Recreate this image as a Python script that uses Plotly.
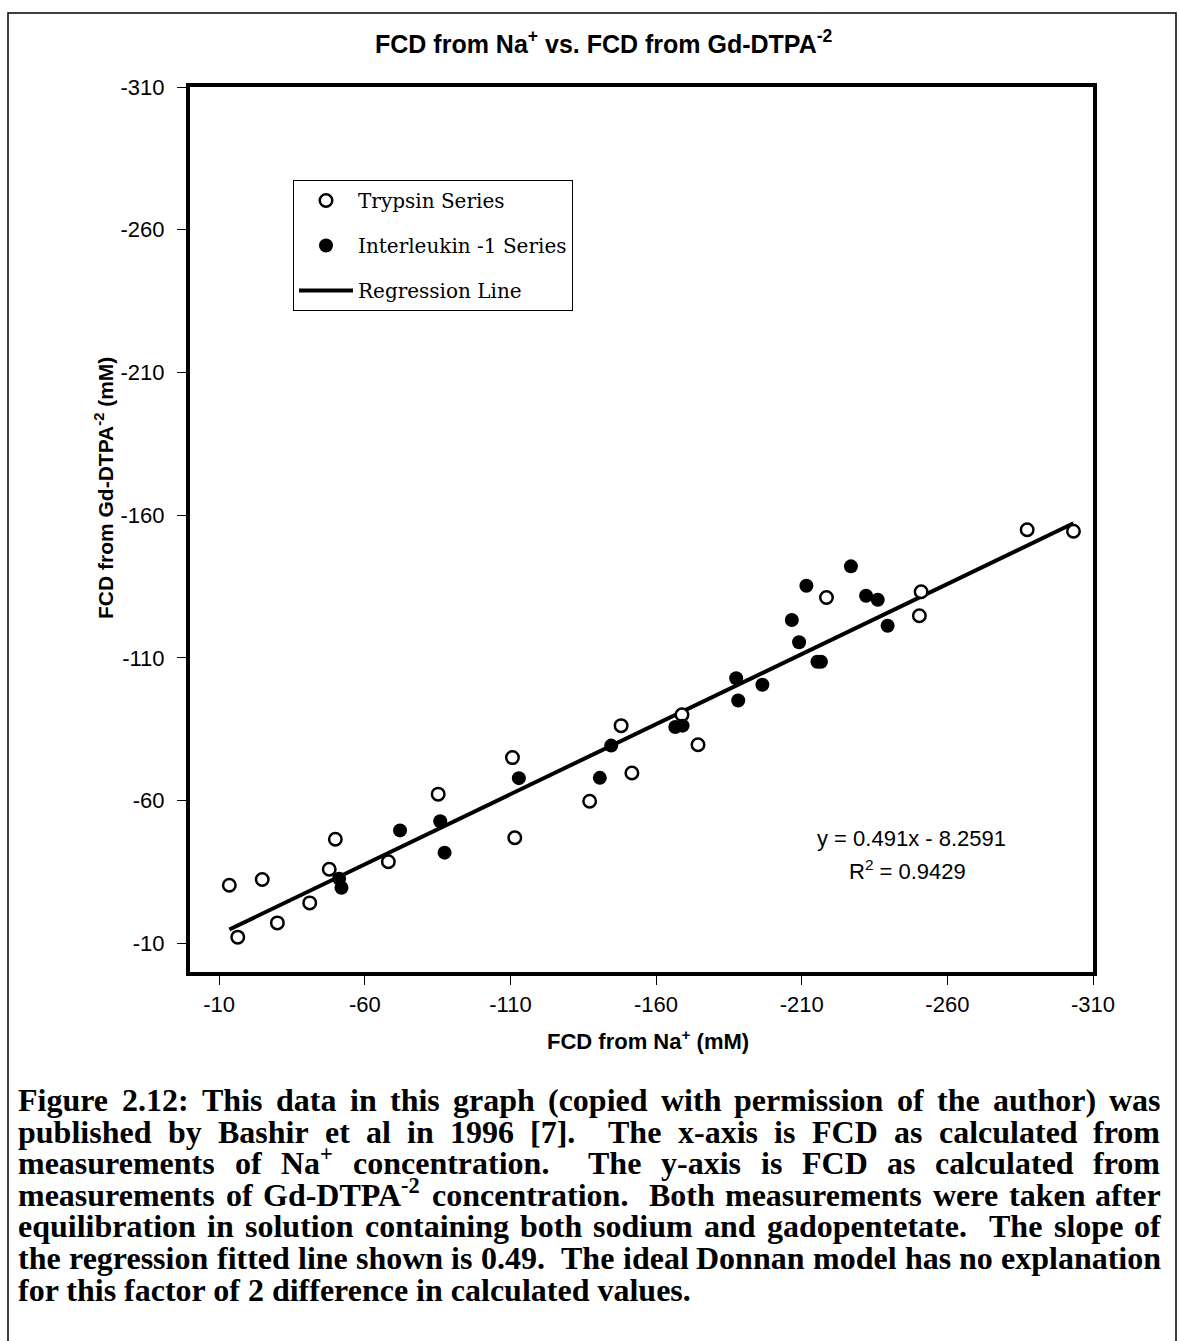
import plotly.graph_objects as go

# ---------------- data ----------------
trypsin_x = [-13.5, -16.4, -24.8, -30.0, -41.1, -47.8, -49.9, -68.1, -85.2, -110.7,
             -111.5, -137.2, -148.0, -151.7, -168.9, -174.4, -218.5, -251.0, -250.4,
             -287.4, -303.3]
trypsin_y = [-30.4, -12.2, -32.4, -17.2, -24.2, -36.0, -46.5, -38.6, -62.3, -75.1,
             -47.0, -59.8, -86.3, -69.7, -90.1, -79.6, -131.2, -133.2, -124.8,
             -154.9, -154.4]

il1_x = [-51.2, -52.0, -72.1, -85.9, -87.4, -112.9, -140.7, -144.6, -166.6, -169.1,
         -187.5, -188.2, -196.5, -209.1, -206.6, -211.6, -215.4, -216.6, -226.9,
         -232.1, -236.1, -239.5]
il1_y = [-32.7, -29.5, -49.6, -52.8, -41.8, -67.9, -68.0, -79.3, -85.8, -86.3,
         -102.9, -95.1, -100.6, -115.5, -123.3, -135.3, -108.7, -108.7, -142.1,
         -131.8, -130.4, -121.3]

reg_slope = 0.491
reg_intercept = -8.2591
r_squared = 0.9429

tick_vals = [-10, -60, -110, -160, -210, -260, -310]
tick_text = ["-10", "-60", "-110", "-160", "-210", "-260", "-310"]

caption_lines = [
    "Figure 2.12: This data in this graph (copied with permission of the author) was",
    "published by Bashir et al in 1996 [7].  The x-axis is FCD as calculated from",
    "measurements of Na<sup>+</sup> concentration.  The y-axis is FCD as calculated from",
    "measurements of Gd-DTPA<sup>-2</sup> concentration.  Both measurements were taken after",
    "equilibration in solution containing both sodium and gadopentetate.  The slope of",
    "the regression fitted line shown is 0.49.  The ideal Donnan model has no explanation",
    "for this factor of 2 difference in calculated values.",
]

# ---------------- layout geometry ----------------
W, H = 1179, 1341
ML, MR, MT, MB = 190, 86, 87, 369
PW = W - ML - MR
PH = H - MT - MB


def px_x(px):
    return (px - ML) / PW


def px_y(py):
    return (H - MB - py) / PH


# Times/Liberation Serif Bold advance widths (1/1000 em) for justification
TB = {" ": 250, "(": 333, ")": 333, ",": 250, "-": 333, ".": 250, ":": 333,
      "[": 333, "]": 333, "+": 570, "/": 278}
for d in "0123456789":
    TB[d] = 500
TB.update(dict(zip("ABCDEFGHIJKLMNOPQRSTUVWXYZ",
                   [722, 667, 722, 722, 667, 611, 778, 778, 389, 500, 778, 667, 944,
                    722, 778, 611, 778, 722, 556, 667, 722, 722, 1000, 722, 722, 667])))
TB.update(dict(zip("abcdefghijklmnopqrstuvwxyz",
                   [500, 556, 444, 556, 444, 333, 500, 556, 278, 333, 556, 278, 833,
                    556, 500, 556, 556, 444, 389, 333, 556, 500, 722, 500, 500, 444])))


def word_width(w, size):
    total = 0.0
    scale = 1.0
    i = 0
    while i < len(w):
        if w.startswith("<sup>", i):
            scale = 0.7
            i += 5
            continue
        if w.startswith("</sup>", i):
            scale = 1.0
            i += 6
            continue
        total += TB.get(w[i], 500) * scale
        i += 1
    return total * size / 1000.0


all_x = trypsin_x + il1_x
x_lo, x_hi = max(all_x), min(all_x)
reg_x = [x_lo, x_hi]
reg_y = [reg_slope * v + reg_intercept for v in reg_x]

fig = go.Figure()
fig.add_trace(go.Scatter(
    x=reg_x, y=reg_y, mode="lines", name="Regression Line",
    legendgroup="c", legendrank=3,
    line=dict(color="black", width=4),
))
fig.add_trace(go.Scatter(
    x=trypsin_x, y=trypsin_y, mode="markers", name="Trypsin Series",
    legendgroup="a", legendrank=1,
    marker=dict(symbol="circle", size=12.5, color="white",
                line=dict(color="black", width=2.5)),
))
fig.add_trace(go.Scatter(
    x=il1_x, y=il1_y, mode="markers", name="Interleukin -1 Series",
    legendgroup="b", legendrank=2,
    marker=dict(symbol="circle", size=14, color="black",
                line=dict(color="black", width=0)),
))

axis_common = dict(
    tickmode="array", tickvals=tick_vals, ticktext=tick_text,
    showgrid=False, zeroline=False,
    showline=True, linecolor="black", linewidth=4, mirror=True,
    ticks="outside", ticklen=9, tickwidth=1, tickcolor="black",
    tickfont=dict(family="Liberation Sans, Arial", size=22, color="black"),
)
fig.update_xaxes(range=[0, -310], ticklabelstandoff=1, **axis_common)
fig.update_yaxes(range=[0, -310], ticklabelstandoff=8, **axis_common)

sans = "Liberation Sans, Arial"
annotations = [
    dict(text="<b>FCD from Na<sup>+</sup> vs. FCD from Gd-DTPA<sup>-2</sup></b>",
         x=px_x(604), y=px_y(42), xref="paper", yref="paper",
         xanchor="center", yanchor="middle", showarrow=False,
         font=dict(family=sans, size=25, color="black")),
    dict(text="<b>FCD from Na<sup>+</sup> (mM)</b>",
         x=px_x(648), y=px_y(1040), xref="paper", yref="paper",
         xanchor="center", yanchor="middle", showarrow=False,
         font=dict(family=sans, size=22, color="black")),
    dict(text="<b>FCD from Gd-DTPA<sup>-2</sup> (mM)</b>", textangle=-90,
         x=px_x(104), y=px_y(488), xref="paper", yref="paper",
         xanchor="center", yanchor="middle", showarrow=False,
         font=dict(family=sans, size=21, color="black")),
    dict(text=f"y = {reg_slope}x - {abs(reg_intercept)}",
         x=px_x(911), y=px_y(838), xref="paper", yref="paper",
         xanchor="center", yanchor="middle", showarrow=False,
         font=dict(family=sans, size=22, color="black")),
    dict(text=f"R<sup>2</sup> = {r_squared}",
         x=px_x(907), y=px_y(870), xref="paper", yref="paper",
         xanchor="center", yanchor="middle", showarrow=False,
         font=dict(family=sans, size=22, color="black")),
]

# caption: justified lines built word by word
cap_size = 32
cap_left, cap_right = 17, 1160
line_y0 = 1098
line_dy = 31.6
cap_font = dict(family="Liberation Serif, Times New Roman", size=cap_size, color="black")
for li, txt in enumerate(caption_lines):
    ybot = px_y(line_y0 + li * line_dy + 21)
    if li == len(caption_lines) - 1:
        annotations.append(dict(
            text=f"<b>{txt}</b>", x=px_x(cap_left), y=ybot,
            xref="paper", yref="paper", xanchor="left", yanchor="bottom",
            showarrow=False, font=cap_font, borderpad=0))
        continue
    parts = txt.split(" ")
    words, gaps = [], []
    n_sp = 0
    for p in parts:
        if p == "":
            n_sp += 1
            continue
        if words:
            gaps.append(n_sp + 1)
        words.append(p)
        n_sp = 0
    space_w = word_width(" ", cap_size)
    natural = sum(word_width(w, cap_size) for w in words) + sum(gaps) * space_w
    extra = (cap_right - cap_left) - natural
    per_space = space_w + extra / max(sum(gaps), 1)
    xcur = cap_left
    for wi, w in enumerate(words):
        annotations.append(dict(
            text=f"<b>{w}</b>", x=px_x(xcur), y=ybot,
            xref="paper", yref="paper", xanchor="left", yanchor="bottom",
            showarrow=False, font=cap_font, borderpad=0))
        xcur += word_width(w, cap_size)
        if wi < len(gaps):
            xcur += gaps[wi] * per_space

shapes = [dict(type="rect", xref="paper", yref="paper",
               x0=px_x(8), x1=px_x(1176), y0=px_y(1345), y1=px_y(13),
               line=dict(color="black", width=1.5), layer="below")]

fig.update_layout(
    width=W, height=H,
    margin=dict(l=ML, r=MR, t=MT, b=MB, pad=0),
    paper_bgcolor="white", plot_bgcolor="white",
    showlegend=True,
    legend=dict(
        x=px_x(293), y=px_y(180), xanchor="left", yanchor="top",
        bordercolor="black", borderwidth=1, bgcolor="white",
        font=dict(family="DejaVu Serif", size=20, color="black"),
        traceorder="grouped", tracegroupgap=16, itemwidth=54,
    ),
    annotations=annotations,
    shapes=shapes,
)

fig.write_html("out.html")
